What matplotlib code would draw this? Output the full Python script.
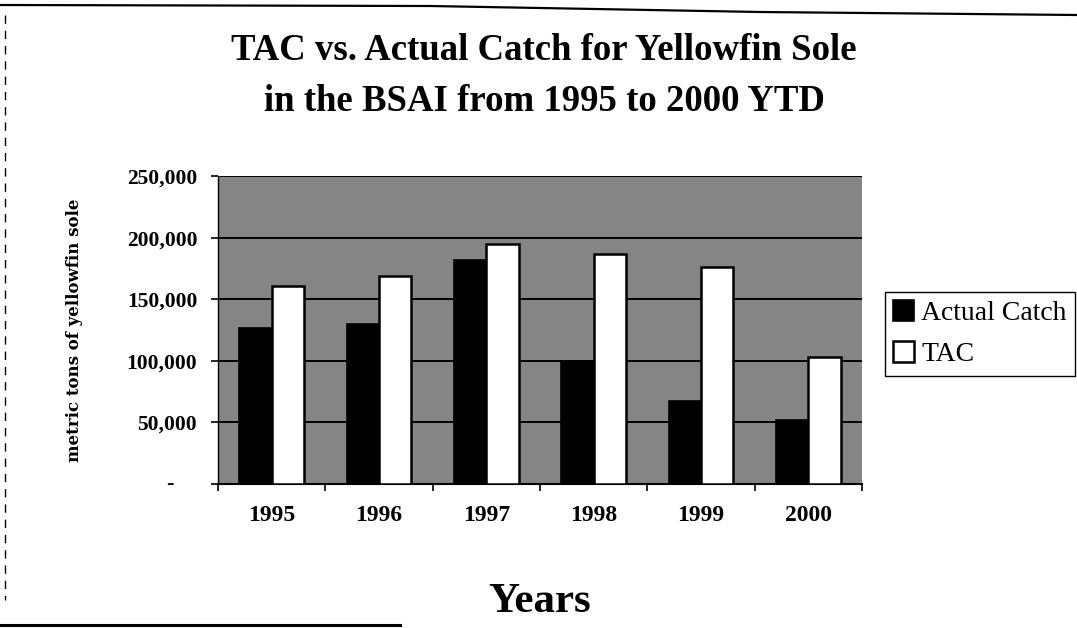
import matplotlib
matplotlib.use("Agg")
import matplotlib.pyplot as plt
from matplotlib.lines import Line2D
from matplotlib.patches import Patch
from matplotlib.ticker import FixedLocator, FuncFormatter

# Yellowfin sole, Bering Sea / Aleutian Islands (metric tons)
years = ["1995", "1996", "1997", "1998", "1999", "2000"]
actual_catch = [127000, 130000, 182000, 100000, 67000, 52000]
tac = [161000, 169000, 195000, 187000, 176000, 103000]
y_ticks = [0, 50000, 100000, 150000, 200000, 250000]

title_lines = ["TAC vs. Actual Catch for Yellowfin Sole",
               "in the BSAI from 1995 to 2000 YTD"]
x_title = "Years"
y_title = "metric tons of yellowfin sole"
series_names = ["Actual Catch", "TAC"]

SERIF = ["Liberation Serif", "DejaVu Serif"]
W, H = 1077, 628

fig = plt.figure(figsize=(W / 100, H / 100), dpi=100)
fig.patch.set_facecolor("white")

# plot area in pixel terms
left, right, top, bottom = 218, 862, 176, 484
ax = fig.add_axes([left / W, 1 - bottom / H, (right - left) / W, (bottom - top) / H])
ax.set_facecolor("#858585")

x = list(range(len(years)))
bw = 0.3
ax.bar([i - bw / 2 for i in x], actual_catch, width=bw, color="black",
       edgecolor="black", linewidth=1.2, zorder=3)
ax.bar([i + bw / 2 for i in x], tac, width=bw, color="white",
       edgecolor="black", linewidth=1.8, zorder=3)

ax.set_xlim(-0.5, len(years) - 0.5)
ax.set_ylim(0, 250000)

# horizontal gridlines
ax.yaxis.set_major_locator(FixedLocator(y_ticks))
ax.grid(axis="y", color="black", linewidth=1.4, zorder=1)
ax.set_axisbelow(True)

def fmt(v, pos):
    return "" if v == 0 else f"{int(v):,}"

ax.yaxis.set_major_formatter(FuncFormatter(fmt))
ax.tick_params(axis="y", direction="out", length=5, width=1.2, pad=10,
               labelsize=15.5, colors="black")
for t in ax.get_yticklabels():
    t.set_fontfamily(SERIF)
    t.set_fontweight("bold")
# zero shown as a dash
ax.text(-0.075, 0, "-", transform=ax.get_yaxis_transform(), ha="center",
        va="center", fontsize=16, fontweight="bold", family=SERIF)

# category boundaries as tick marks, year labels centred
ax.xaxis.set_major_locator(FixedLocator([i - 0.5 for i in range(len(years) + 1)]))
ax.xaxis.set_major_formatter(FuncFormatter(lambda v, p: ""))
ax.xaxis.set_minor_locator(FixedLocator(x))
ax.set_xticklabels(years, minor=True)
ax.tick_params(axis="x", which="major", direction="out", length=5, width=1.2)
ax.tick_params(axis="x", which="minor", length=0, pad=15, labelsize=17)
for t in ax.get_xticklabels(minor=True):
    t.set_fontfamily(SERIF)
    t.set_fontweight("bold")

for s in ["top", "right"]:
    ax.spines[s].set_visible(False)
ax.spines["bottom"].set_linewidth(1.5)
ax.spines["left"].set_linewidth(1.0)

# titles
fig.text(544 / W, 1 - 60 / H, title_lines[0], ha="center", va="baseline",
         fontsize=26.5, fontweight="bold", family=SERIF)
fig.text(544 / W, 1 - 111 / H, title_lines[1], ha="center", va="baseline",
         fontsize=26.5, fontweight="bold", family=SERIF)
fig.text(540 / W, 1 - 612 / H, x_title, ha="center", va="baseline",
         fontsize=31, fontweight="bold", family=SERIF)
fig.text(75 / W, 1 - 330 / H, y_title, ha="center", va="center", rotation=90,
         fontsize=12, fontweight="bold", family=["DejaVu Serif"])

# legend
handles = [Patch(facecolor="black", edgecolor="black", linewidth=1.2),
           Patch(facecolor="white", edgecolor="black", linewidth=1.8)]
leg = fig.legend(handles, series_names, loc="upper left",
                 bbox_to_anchor=(885 / W, 1 - 292 / H), frameon=True,
                 fancybox=False, edgecolor="black", framealpha=1,
                 prop={"family": SERIF, "size": 20},
                 handlelength=0.75, handleheight=0.75, handletextpad=0.25,
                 borderpad=0.3, labelspacing=0.55, borderaxespad=0)
leg.get_frame().set_linewidth(1.0)

# page border lines around the chart object
fig.add_artist(Line2D([0, 430 / W, 760 / W, 1], [1 - 5 / H, 1 - 6 / H, 1 - 12 / H, 1 - 15 / H],
                      transform=fig.transFigure, color="black", linewidth=1.6))
fig.add_artist(Line2D([5 / W, 5 / W], [1 - 15 / H, 1 - 600 / H],
                      transform=fig.transFigure, color="black", linewidth=1.0,
                      linestyle=(0, (6, 5))))
fig.add_artist(Line2D([0, 400 / W], [1 - 625 / H, 1 - 625 / H],
                      transform=fig.transFigure, color="black", linewidth=2.2))

fig.savefig("out.png", dpi=100)
